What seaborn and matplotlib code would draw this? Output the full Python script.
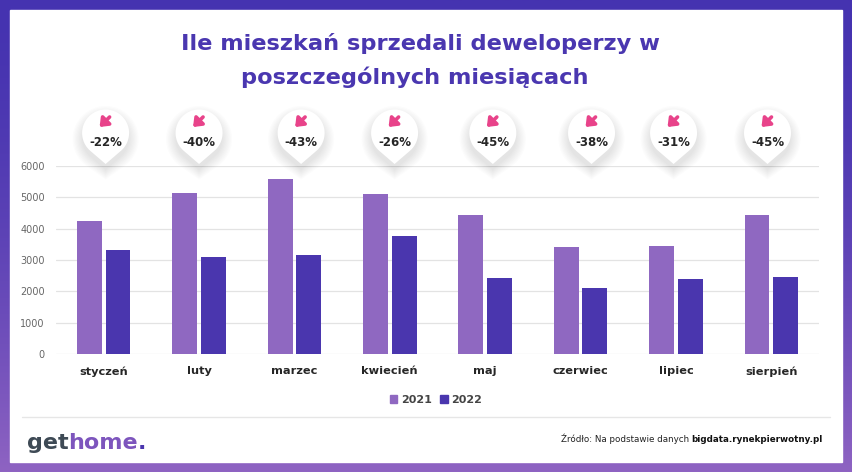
import numpy as np
import pandas as pd
import matplotlib
matplotlib.use("Agg")
import matplotlib.pyplot as plt
import seaborn as sns
from matplotlib.patches import Polygon, Rectangle, Patch

# ── Data ──────────────────────────────────────────────
MONTHS = ["styczeń", "luty", "marzec", "kwiecień", "maj", "czerwiec", "lipiec", "sierpień"]
SALES_2021 = [4255, 5150, 5585, 5105, 4450, 3415, 3435, 4430]
SALES_2022 = [3320, 3085, 3160, 3765, 2435, 2115, 2385, 2445]
CHANGE_LABELS = ["-22%", "-40%", "-43%", "-26%", "-45%", "-38%", "-31%", "-45%"]
YEARS = ["2021", "2022"]
Y_TICKS = [0, 1000, 2000, 3000, 4000, 5000, 6000]

# ── Style ─────────────────────────────────────────────
C_2021 = "#8f68c1"
C_2022 = "#4a36ae"
C_TITLE = "#4a37b0"
C_PINK = "#e8438a"
C_DARK = "#262626"
BUBBLE_SHIFT = [0.02, 0.0, 0.07, 0.05, 0.08, 0.115, -0.025, -0.04]

W, H = 852, 472
sns.set_theme(style="white")
plt.rcParams["font.family"] = ["DejaVu Sans"]

df = pd.DataFrame({
    "month": MONTHS * 2,
    "sales": SALES_2021 + SALES_2022,
    "year": [YEARS[0]] * len(MONTHS) + [YEARS[1]] * len(MONTHS),
})

fig = plt.figure(figsize=(W / 100, H / 100), dpi=100)

# background frame with vertical gradient
bg = fig.add_axes([0, 0, 1, 1], zorder=0)
top = np.array([0x45, 0x33, 0xb0]) / 255
bot = np.array([0x8e, 0x63, 0xc2]) / 255
t = np.linspace(0, 1, 200)[:, None] ** 1.6
grad = top[None, None, :] * (1 - t[..., None]) + bot[None, None, :] * t[..., None]
bg.imshow(grad, aspect="auto", extent=[0, W, H, 0])
bg.add_patch(Rectangle((10, 10), 832, 452, color="white"))
bg.set_xlim(0, W); bg.set_ylim(H, 0)
bg.axis("off")

# ── Bars ──────────────────────────────────────────────
ax = fig.add_axes([56 / W, (H - 354) / H, 763 / W, 188 / H], zorder=2)
sns.barplot(data=df, x="month", y="sales", hue="year", hue_order=YEARS,
            palette=[C_2021, C_2022], width=0.6, gap=0.13, saturation=1,
            linewidth=0, ax=ax)
ax.set_xlim(-0.5, len(MONTHS) - 0.5)
ax.set_ylim(0, 6000)
ax.set_yticks(Y_TICKS)
ax.set_yticklabels([str(v) for v in Y_TICKS], fontsize=7, color="#666666")
ax.set_xticks(range(len(MONTHS)))
ax.set_xticklabels(MONTHS, fontsize=8.2, fontweight="bold", color=C_DARK)
ax.tick_params(axis="y", length=0, pad=8)
ax.tick_params(axis="x", length=0, pad=9)
ax.set_xlabel(""); ax.set_ylabel("")
ax.set_facecolor("none")
for s in ax.spines.values():
    s.set_visible(False)
ax.yaxis.grid(True, color="#e3e3e3", lw=0.9)
ax.set_axisbelow(True)

leg = ax.get_legend()
if leg:
    leg.remove()
handles = [Patch(color=C_2021), Patch(color=C_2022)]
fig.legend(handles, YEARS, loc="center", bbox_to_anchor=(436 / W, (H - 400) / H),
           ncol=2, frameon=False, handlelength=0.65, handleheight=0.65,
           handletextpad=0.35, columnspacing=0.8,
           prop={"size": 8, "weight": "bold"}, labelcolor="#444444")

# ── Overlay (pixel coordinates) ──────────────────────
ov = fig.add_axes([0, 0, 1, 1], zorder=3)
ov.set_xlim(0, W); ov.set_ylim(H, 0)
ov.axis("off")

def pin(cx, cy, r, d):
    a = np.arccos(r / d)
    ang = np.linspace(np.pi / 2 + a, 2.5 * np.pi - a, 60)
    pts = [(cx, cy + d)] + [(cx + r * np.cos(q), cy + r * np.sin(q)) for q in ang]
    return np.array(pts)

CY, R, D = 133, 23.5, 31
for i, lab in enumerate(CHANGE_LABELS):
    cx = ax.transData.transform((i + BUBBLE_SHIFT[i], 0))[0]
    for k in range(9):
        ov.add_patch(Polygon(pin(cx, CY + 6, R + k * 1.2, D + k * 1.2),
                             closed=True, color="black", alpha=0.012, lw=0))
    ov.add_patch(Polygon(pin(cx, CY, R, D), closed=True, color="white", lw=0))
    ov.annotate("", xy=(cx - 6, CY - 6), xytext=(cx + 4, CY - 16),
                arrowprops=dict(arrowstyle="-|>,head_length=0.38,head_width=0.3",
                                color=C_PINK, lw=2.6, shrinkA=0, shrinkB=0))
    ov.text(cx, CY + 10, lab, ha="center", va="center", fontsize=8.5,
            fontweight="bold", color=C_DARK)

# ── Title ─────────────────────────────────────────────
ov.text(420, 44, "Ile mieszkań sprzedali deweloperzy w", ha="center", va="center",
        fontsize=16.2, fontweight="bold", color=C_TITLE)
ov.text(415, 77, "poszczególnych miesiącach", ha="center", va="center",
        fontsize=16.2, fontweight="bold", color=C_TITLE)

# ── Footer ────────────────────────────────────────────
ov.plot([22, 830], [417, 417], color="#e6e6e6", lw=1)
fig.canvas.draw()
renderer = fig.canvas.get_renderer()

def width_px(txt):
    return txt.get_window_extent(renderer).width

t_bold = ov.text(823, 439, "bigdata.rynekpierwotny.pl", ha="right", va="center",
                 fontsize=6.3, fontweight="bold", color="#111111")
wb = width_px(t_bold)
ov.text(823 - wb, 439, "Źródło: Na podstawie danych ", ha="right", va="center",
        fontsize=6.3, color="#222222")

x0 = 27
for piece, col in [("get", "#3e4a55"), ("home", "#7d55bd"), (".", "#4a36ae")]:
    tx = ov.text(x0, 449, piece, ha="left", va="baseline", fontsize=16,
                 fontweight="bold", color=col)
    x0 += width_px(tx)

fig.savefig("out.png", dpi=100)
